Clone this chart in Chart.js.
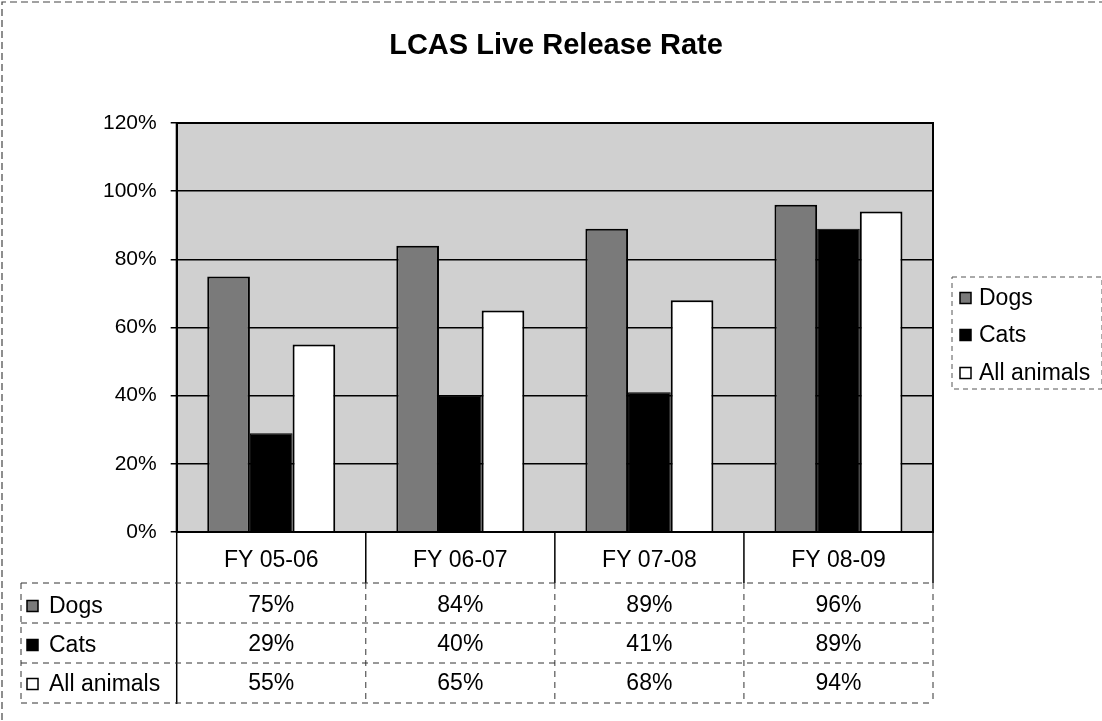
<!DOCTYPE html>
<html>
<head>
<meta charset="utf-8">
<script src="https://cdn.jsdelivr.net/npm/chart.js@4/dist/chart.umd.min.js"></script>
<style>
  html, body { margin: 0; padding: 0; background: #ffffff; }
  #wrap { width: 1102px; height: 721px; }
</style>
</head>
<body>
<div id="wrap"><canvas id="c" width="1102" height="721"></canvas></div>
<script>
const chartTitle = "LCAS Live Release Rate";
const categories = ["FY 05-06", "FY 06-07", "FY 07-08", "FY 08-09"];
const seriesNames = ["Dogs", "Cats", "All animals"];
const dogs = [75, 84, 89, 96];
const cats = [29, 40, 41, 89];
const allAnimals = [55, 65, 68, 94];
const yTicks = [0, 20, 40, 60, 80, 100, 120];

const FONT = "'Liberation Sans', Arial, sans-serif";
const fills = ["#7a7a7a", "#000000", "#ffffff"];
const seriesValues = [dogs, cats, allAnimals];

function drawKey(ctx, i, x, yc, s) {
  ctx.save();
  ctx.fillStyle = fills[i];
  ctx.fillRect(x, yc - s / 2, s, s);
  ctx.strokeStyle = "#000";
  ctx.lineWidth = 1.5;
  ctx.setLineDash([]);
  ctx.strokeRect(x, yc - s / 2, s, s);
  ctx.restore();
}

const decor = {
  id: "decor",
  beforeDraw(chart) {
    const { ctx, chartArea: a } = chart;
    ctx.save();
    ctx.fillStyle = "#d0d0d0";
    ctx.fillRect(a.left, a.top, a.right - a.left, a.bottom - a.top);
    ctx.restore();
  },
  afterDraw(chart) {
    const { ctx, chartArea: a, scales } = chart;
    const xs = scales.x;
    ctx.save();
    // plot area frame
    ctx.strokeStyle = "#000";
    ctx.lineWidth = 2;
    ctx.strokeRect(a.left, a.top, a.right - a.left, a.bottom - a.top);

    // title
    ctx.fillStyle = "#000";
    ctx.font = "bold 29px " + FONT;
    ctx.textAlign = "center";
    ctx.textBaseline = "middle";
    ctx.fillText(chartTitle, 556, 46);

    // outer dashed frame (left and top)
    ctx.strokeStyle = "#444";
    ctx.lineWidth = 1.2;
    ctx.setLineDash([7, 4]);
    ctx.beginPath();
    ctx.moveTo(2, 720); ctx.lineTo(2, 2); ctx.lineTo(1102, 2);
    ctx.stroke();

    // legend box
    const lx = 952, ly = 277, lw = 150, lh = 112;
    ctx.strokeStyle = "#555";
    ctx.lineWidth = 1;
    ctx.setLineDash([5, 4]);
    ctx.strokeRect(lx, ly, lw, lh);
    ctx.setLineDash([]);
    const legY = [298, 335, 373];
    ctx.font = "23px " + FONT;
    ctx.textAlign = "left";
    for (let i = 0; i < seriesNames.length; i++) {
      drawKey(ctx, i, 960, legY[i], 11);
      ctx.fillStyle = "#000";
      ctx.fillText(seriesNames[i], 979, legY[i] + 1);
    }

    // data table
    const n = categories.length;
    const cw = (a.right - a.left) / n;
    const rowLines = [583, 623, 663, 703];
    const rowCenters = [606, 645, 684];
    const headerCenter = 561;
    const tableBottom = 704;
    ctx.strokeStyle = "#000";
    ctx.lineWidth = 1.5;
    ctx.beginPath();
    ctx.moveTo(a.left, a.bottom); ctx.lineTo(a.left, tableBottom);
    for (let i = 1; i <= n; i++) {
      const bx = a.left + cw * i;
      ctx.moveTo(bx, a.bottom); ctx.lineTo(bx, rowLines[0]);
    }
    ctx.stroke();
    ctx.strokeStyle = "#333";
    ctx.lineWidth = 1;
    ctx.setLineDash([6, 5]);
    ctx.beginPath();
    for (let i = 1; i <= n; i++) {
      const bx = a.left + cw * i;
      ctx.moveTo(bx, rowLines[0]); ctx.lineTo(bx, tableBottom);
    }
    ctx.moveTo(21, rowLines[0]); ctx.lineTo(21, tableBottom);
    for (const yl of rowLines) {
      ctx.moveTo(21, yl); ctx.lineTo(a.right, yl);
    }
    ctx.stroke();
    ctx.setLineDash([]);

    ctx.font = "23px " + FONT;
    ctx.fillStyle = "#000";
    ctx.textAlign = "center";
    for (let i = 0; i < n; i++) {
      const cx = xs.getPixelForValue(i);
      ctx.fillText(categories[i], cx, headerCenter);
      for (let s = 0; s < seriesValues.length; s++) {
        ctx.fillText(seriesValues[s][i] + "%", cx, rowCenters[s]);
      }
    }
    ctx.textAlign = "left";
    for (let s = 0; s < seriesNames.length; s++) {
      drawKey(ctx, s, 27, rowCenters[s], 11);
      ctx.fillStyle = "#000";
      ctx.fillText(seriesNames[s], 49, rowCenters[s] + 1);
    }
    ctx.restore();
  }
};

new Chart(document.getElementById("c"), {
  type: "bar",
  data: {
    labels: categories,
    datasets: [
      { label: seriesNames[0], data: dogs, backgroundColor: fills[0], borderColor: "#000", borderWidth: 2 },
      { label: seriesNames[1], data: cats, backgroundColor: fills[1], borderColor: "#000", borderWidth: 1 },
      { label: seriesNames[2], data: allAnimals, backgroundColor: fills[2], borderColor: "#000", borderWidth: 2 }
    ]
  },
  options: {
    responsive: false,
    devicePixelRatio: 1,
    animation: false,
    layout: { padding: { top: 123, right: 169, bottom: 181, left: 89 } },
    datasets: { bar: { barPercentage: 1.0, categoryPercentage: 0.677 } },
    plugins: {
      legend: { display: false },
      title: { display: false },
      tooltip: { enabled: false }
    },
    scales: {
      x: {
        grid: { display: false },
        border: { display: true, color: "#000", width: 2 },
        ticks: { display: false }
      },
      y: {
        min: 0, max: 120,
        afterBuildTicks(scale) { scale.ticks = yTicks.map(v => ({ value: v })); },
        ticks: {
          color: "#000",
          font: { family: FONT, size: 21 },
          padding: 14,
          callback: v => v + "%"
        },
        grid: { color: "#000", lineWidth: 1.5, tickLength: 6 },
        border: { color: "#000", width: 2 }
      }
    }
  },
  plugins: [decor]
});
</script>
</body>
</html>
